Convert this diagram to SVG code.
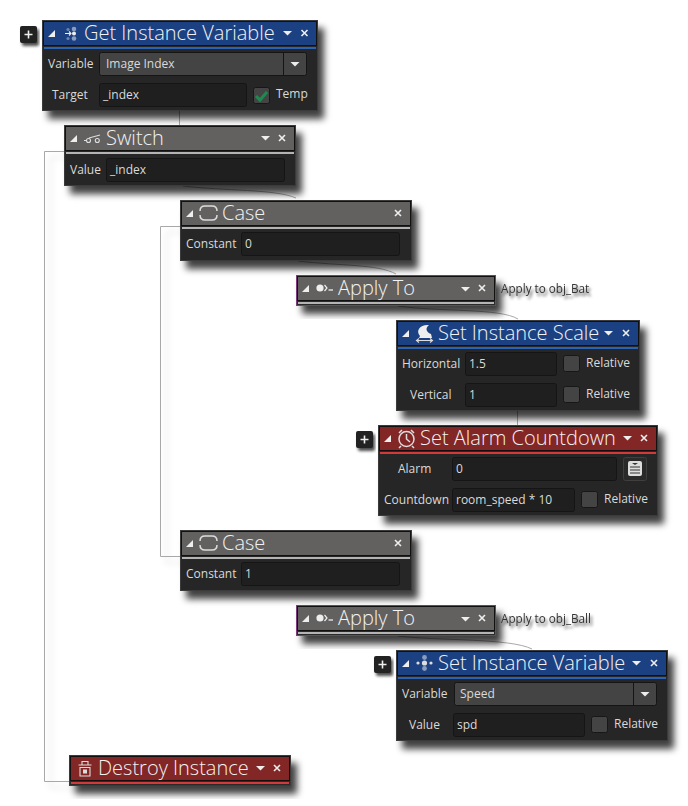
<svg xmlns="http://www.w3.org/2000/svg" width="688" height="806" viewBox="0 0 688 806">
<style>
text{font-family:"Open Sans","Noto Sans","Liberation Sans",sans-serif;fill:#dadada;font-size:12px}
.title{font-size:20px;fill:#f2f2f2;font-weight:300}
.body{fill:#252525;stroke:#3a3a3a;stroke-width:1}
.hd{stroke:#111;stroke-width:1}
.blue{fill:#1b4183}.red{fill:#822626}.gray{fill:#626160}
.sb{fill:#2a62b4}.sr{fill:#d23a3a}.sg{fill:#b4b4b4}
.field{fill:#1f1f1f;stroke:#151515;stroke-width:1}
.drop{fill:#444;stroke:#151515;stroke-width:1}
.chk{fill:#444;stroke:#171717;stroke-width:1}
.plusb{fill:#222}
.wh{fill:#eee;stroke:none}
.ln{stroke:#eee;stroke-width:1.6;fill:none}
.ic{fill:none;stroke:#ddd;stroke-width:1.5}
.thin{fill:none;stroke:#ddd;stroke-width:1.100}
.con{fill:none;stroke:#a8a8a8;stroke-width:1}
.note{fill:#333;font-size:11.700px}
</style>
<defs>
<filter id="sh" x="-15%" y="-25%" width="130%" height="170%"><feDropShadow dx="6" dy="8" stdDeviation="3.500" flood-color="#000" flood-opacity=".75"/></filter>
<filter id="lsh" x="-20%" y="-5%" width="140%" height="110%"><feDropShadow dx="6" dy="6" stdDeviation="3" flood-color="#000" flood-opacity=".18"/></filter>
<filter id="tsh" x="-10%" y="-40%" width="125%" height="240%"><feDropShadow dx="2" dy="3" stdDeviation="1.800" flood-color="#000" flood-opacity=".7"/></filter>
<g id="tri"><path class="wh" d="M0 7L7 0V7Z"/></g>
<g id="dn"><path class="wh" d="M0 0H9L4.500 4.500Z"/></g>
<g id="x"><path class="ln" d="M0 0L6 6M6 0L0 6"/></g>
<g id="pl"><rect class="plusb" width="17" height="17" rx="2" filter="url(#tsh)"/><path class="ln" d="M4.500 8.500H12.500M8.500 4.500V12.500"/></g>
<g id="var"><circle cx="0" cy="0" r="2.600" fill="#ddd"/><circle cx="6.500" cy="0" r="1.600" fill="#ddd"/><circle cx="-6.500" cy="0" r="1.600" fill="#ddd"/><circle cx="0" cy="-5.500" r="2.400" fill="#8a9dc0"/><circle cx="0" cy="5.500" r="2.400" fill="#8a9dc0"/></g>
<g id="app"><circle cx="4" cy="0" r="3.600" fill="#eee"/><path d="M8.500 -3L11 0L8.500 3" fill="none" stroke="#eee" stroke-width="1.200"/><path d="M12.500 2H17" stroke="#eee" stroke-width="1.300"/></g>
<g id="cs"><path class="ic" d="M0 -2C0 -5 2 -7 5 -7H12C15 -7 17 -5 17 -2M0 2C0 5 2 7 5 7H12C15 7 17 5 17 2"/></g>
</defs>

<g id="connectors">
<g filter="url(#lsh)"><path class="con" d="M64 151.500H44.500V781.500H70"/><path class="con" d="M180 226.500H160.500V556.500H180"/></g>
<path class="con" d="M179.500 110V125"/>
<path class="con" d="M517.500 410V425"/>
<path class="con" d="M183 186C225 191 275 189 296 198"/>
<path class="con" d="M298 261C340 266 378 264 396 274"/>
<path class="con" d="M398 306C440 312 500 308 518 319"/>
<path class="con" d="M398 636C440 641 510 638 532 649"/>
</g>

<g id="node-get-instance-variable">
<use href="#pl" x="20" y="26"/>
<g filter="url(#sh)"><rect class="body" x="42.500" y="20.500" width="275" height="90"/></g>
<rect class="blue hd" x="43.500" y="21.500" width="273" height="24"/>
<rect class="sb" x="44" y="47" width="272" height="2"/>
<use href="#tri" x="48" y="30"/>
<circle cx="74" cy="29" r="2.300" fill="#8a9dc0"/><circle cx="74" cy="33.500" r="2" fill="#eee"/><circle cx="74" cy="38.500" r="2.300" fill="#8a9dc0"/><circle cx="68" cy="29.500" r="1.600" fill="#6f84a8"/><circle cx="68" cy="38.500" r="1.600" fill="#6f84a8"/><path d="M65 33.500H71M69 31.500L71 33.500L69 35.500" fill="none" stroke="#eee" stroke-width="1.100"/>
<text class="title" x="84" y="39.500">Get Instance Variable</text>
<use href="#dn" x="283" y="31"/><use href="#x" x="301.500" y="30"/>
<text x="48" y="68">Variable</text>
<rect class="drop" x="99.500" y="52.500" width="207" height="23" rx="2"/><path d="M283.500 53V75" stroke="#151515"/>
<use href="#dn" x="290.500" y="62"/>
<text x="106" y="68">Image Index</text>
<text x="52" y="99">Target</text>
<rect class="field" x="99.500" y="83.500" width="147" height="23" rx="2"/>
<text x="103" y="99">_index</text>
<rect class="chk" x="253.500" y="87.500" width="16" height="16" rx="2"/>
<path d="M256 96L260 100L267 92" fill="none" stroke="#1d8a50" stroke-width="3"/>
<text x="276" y="98">Temp</text>
</g>

<g id="node-switch">
<g filter="url(#sh)"><rect class="body" x="64.500" y="125.500" width="231" height="60"/></g>
<rect class="gray hd" x="65.500" y="126.500" width="229" height="24"/>
<rect class="sg" x="66" y="152" width="228" height="2"/>
<use href="#tri" x="70" y="135"/>
<path class="thin" d="M84 140.500H86.500M89 138L100 135"/><circle class="thin" cx="88.500" cy="140.500" r="2"/><circle class="thin" cx="97.300" cy="140.500" r="2"/>
<text class="title" x="106" y="144.500">Switch</text>
<use href="#dn" x="261" y="136"/><use href="#x" x="279" y="135"/>
<text x="70" y="174">Value</text>
<rect class="field" x="106.500" y="158.500" width="178" height="23" rx="2"/>
<text x="110" y="174">_index</text>
</g>

<g id="node-case-1">
<g filter="url(#sh)"><rect class="body" x="180.500" y="200.500" width="231" height="60"/></g>
<rect class="gray hd" x="181.500" y="201.500" width="229" height="24"/>
<rect class="sg" x="182" y="227" width="228" height="2"/>
<use href="#tri" x="186" y="210"/><use href="#cs" x="200" y="213"/>
<text class="title" x="222" y="219.500">Case</text>
<use href="#x" x="395" y="210"/>
<text x="186" y="248">Constant</text>
<rect class="field" x="241.500" y="232.500" width="158" height="23" rx="2"/>
<text x="245" y="248">0</text>
</g>

<g id="node-apply-to-1">
<g filter="url(#sh)"><rect x="296.500" y="275.500" width="199" height="30" fill="#2a2a2a" stroke="#7b3a7b"/></g>
<rect class="gray hd" x="297.500" y="276.500" width="197" height="24"/>
<rect class="sg" x="298" y="302" width="196" height="2"/>
<use href="#tri" x="302" y="285"/><use href="#app" x="316" y="288"/>
<text class="title" x="338" y="294.500">Apply To</text>
<use href="#dn" x="461" y="287"/><use href="#x" x="479" y="285"/>
<text class="note" x="501" y="293" filter="url(#tsh)">Apply to obj_Bat</text>
</g>

<g id="node-set-instance-scale">
<g filter="url(#sh)"><rect class="body" x="396.500" y="320.500" width="243" height="90"/></g>
<rect class="blue hd" x="397.500" y="321.500" width="241" height="24"/>
<rect class="sb" x="398" y="347" width="240" height="2"/>
<use href="#tri" x="402" y="330"/>
<path d="M420 336C415 330 421 324 429 325C425 328 426 332 431 334L432 338H419Z" fill="#eee"/><path class="thin" d="M417 340.500H432M419 338.500L416.500 340.500L419 342.500M430 338.500L432.500 340.500L430 342.500"/>
<text class="title" x="438" y="339.500">Set Instance Scale</text>
<use href="#dn" x="604" y="331"/><use href="#x" x="623" y="330"/>
<text x="402" y="368">Horizontal</text>
<rect class="field" x="465.500" y="352.500" width="91" height="23" rx="2"/>
<text x="469" y="368">1.5</text>
<rect class="chk" x="563.500" y="355.500" width="16" height="16" rx="2"/>
<text x="586" y="367">Relative</text>
<text x="410" y="399">Vertical</text>
<rect class="field" x="465.500" y="383.500" width="91" height="23" rx="2"/>
<text x="469" y="399">1</text>
<rect class="chk" x="563.500" y="386.500" width="16" height="16" rx="2"/>
<text x="586" y="398">Relative</text>
</g>

<g id="node-set-alarm-countdown">
<use href="#pl" x="356" y="431"/>
<g filter="url(#sh)"><rect class="body" x="378.500" y="425.500" width="279" height="90"/></g>
<rect class="red hd" x="379.500" y="426.500" width="277" height="24"/>
<rect class="sr" x="380" y="452" width="276" height="2"/>
<use href="#tri" x="384" y="435"/>
<circle class="ic" cx="406.500" cy="439" r="7.500"/><path class="ic" d="M406.500 434V439L410 442M399 433L402 430M414 433L411 430M401 446L399 448M412 446L414 448"/>
<text class="title" x="420" y="444.500">Set Alarm Countdown</text>
<use href="#dn" x="623" y="436"/><use href="#x" x="641" y="435"/>
<text x="398" y="473">Alarm</text>
<rect class="field" x="452.500" y="457.500" width="164" height="23" rx="2"/>
<text x="456" y="473">0</text>
<rect x="623.500" y="457.500" width="23" height="23" rx="2" fill="#2a2a2a" stroke="#3f3f3f"/>
<rect x="628" y="461" width="14" height="15" rx="2" fill="#ddd"/><path d="M630 467H640M630 470H640M630 473H640" stroke="#333"/><path d="M632 463H638L635 465Z" fill="#333"/>
<text x="384" y="504">Countdown</text>
<rect class="field" x="452.500" y="488.500" width="122" height="23" rx="2"/>
<text x="456" y="504">room_speed * 10</text>
<rect class="chk" x="581.500" y="491.500" width="16" height="16" rx="2"/>
<text x="604" y="503">Relative</text>
</g>

<g id="node-case-2">
<g filter="url(#sh)"><rect class="body" x="180.500" y="530.500" width="231" height="60"/></g>
<rect class="gray hd" x="181.500" y="531.500" width="229" height="24"/>
<rect class="sg" x="182" y="557" width="228" height="2"/>
<use href="#tri" x="186" y="540"/><use href="#cs" x="200" y="543"/>
<text class="title" x="222" y="549.500">Case</text>
<use href="#x" x="395" y="540"/>
<text x="186" y="578">Constant</text>
<rect class="field" x="241.500" y="562.500" width="158" height="23" rx="2"/>
<text x="245" y="578">1</text>
</g>

<g id="node-apply-to-2">
<g filter="url(#sh)"><rect x="296.500" y="605.500" width="199" height="30" fill="#2a2a2a" stroke="#7b3a7b"/></g>
<rect class="gray hd" x="297.500" y="606.500" width="197" height="24"/>
<rect class="sg" x="298" y="632" width="196" height="2"/>
<use href="#tri" x="302" y="615"/><use href="#app" x="316" y="618"/>
<text class="title" x="338" y="624.500">Apply To</text>
<use href="#dn" x="461" y="617"/><use href="#x" x="479" y="615"/>
<text class="note" x="501" y="623" filter="url(#tsh)">Apply to obj_Ball</text>
</g>

<g id="node-set-instance-variable">
<use href="#pl" x="374" y="656"/>
<g filter="url(#sh)"><rect class="body" x="396.500" y="650.500" width="271" height="90"/></g>
<rect class="blue hd" x="397.500" y="651.500" width="269" height="24"/>
<rect class="sb" x="398" y="677" width="268" height="2"/>
<use href="#tri" x="402" y="660"/><use href="#var" x="424.500" y="663"/>
<text class="title" x="438" y="669.500">Set Instance Variable</text>
<use href="#dn" x="632" y="661"/><use href="#x" x="651" y="660"/>
<text x="402" y="698">Variable</text>
<rect class="drop" x="454.500" y="682.500" width="202" height="23" rx="2"/><path d="M633.500 683V705" stroke="#151515"/>
<use href="#dn" x="640.500" y="692"/>
<text x="460" y="698">Speed</text>
<text x="409" y="729">Value</text>
<rect class="field" x="453.500" y="713.500" width="131" height="23" rx="2"/>
<text x="457" y="729">spd</text>
<rect class="chk" x="591.500" y="716.500" width="16" height="16" rx="2"/>
<text x="614" y="728">Relative</text>
</g>

<g id="node-destroy-instance">
<g filter="url(#sh)"><rect x="69.500" y="755.500" width="221" height="30" fill="#2a2a2a" stroke="#3a3a3a"/></g>
<rect class="red hd" x="70.500" y="756.500" width="219" height="24"/>
<rect class="sr" x="71" y="782" width="218" height="2"/>
<path class="thin" d="M78.500 765H91.500M82 765V761.500H88V765M80 767.500H90V776H80Z"/><rect x="83" y="769.500" width="4" height="4" fill="#ddd"/>
<text class="title" x="98" y="774.500">Destroy Instance</text>
<use href="#dn" x="256" y="766"/><use href="#x" x="274" y="765"/>
</g>
</svg>
